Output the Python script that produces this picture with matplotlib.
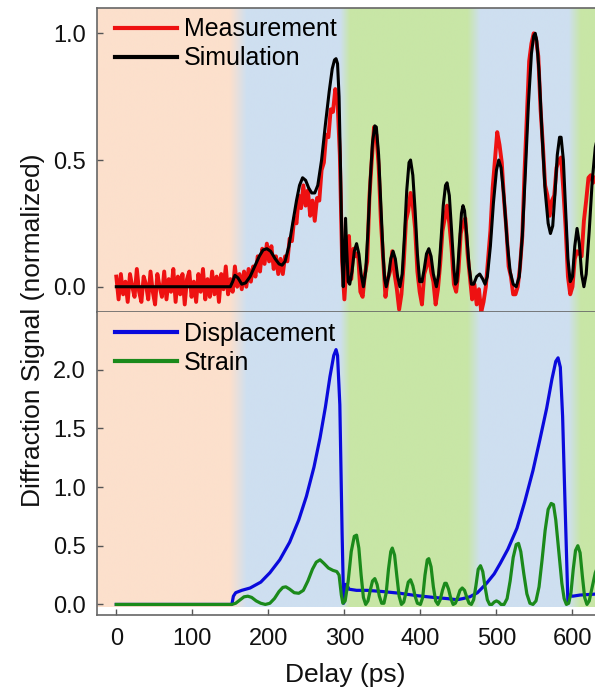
import numpy as np
import matplotlib
matplotlib.use("Agg")
import matplotlib.pyplot as plt

plt.rcParams['font.family'] = ['Liberation Sans', 'DejaVu Sans']

# ---------------------------------------------------------------------------
# Data
# ---------------------------------------------------------------------------
# measurement, sampled every 3 ps from 0 to 630 ps
meas_delay = np.arange(0, 631, 3)
measurement = [
    0.04, -0.05, 0.05, -0.03, 0.02, -0.06, 0.05, 0.00, -0.04, 0.07,
    -0.02, -0.06, 0.04, 0.01, -0.05, 0.06, -0.02, -0.07, 0.05, 0.00,
    -0.04, 0.06, -0.05, 0.03, -0.02, 0.07, -0.06, 0.04, -0.03, 0.05,
    -0.07, 0.03, 0.06, -0.04, 0.02, -0.06, 0.05, -0.02, 0.07, -0.05,
    0.03, -0.04, 0.06, -0.03, 0.04, -0.06, 0.05, -0.01, 0.08, -0.03,
    0.03, -0.02, 0.08, 0.00, 0.05, -0.01, 0.06, 0.00, 0.07, 0.02,
    0.08, 0.04, 0.12, 0.06, 0.15, 0.09, 0.17, 0.10, 0.16, 0.07,
    0.12, 0.05, 0.11, 0.05, 0.12, 0.10, 0.19, 0.18, 0.27, 0.25,
    0.36, 0.31, 0.40, 0.32, 0.38, 0.28, 0.34, 0.26, 0.35, 0.34,
    0.46, 0.49, 0.60, 0.59, 0.70, 0.69, 0.78, 0.73, 0.52, 0.10,
    -0.05, 0.10, 0.20, 0.03, 0.15, 0.12, 0.13, -0.02, -0.04, 0.05,
    0.10, 0.36, 0.50, 0.63, 0.60, 0.48, 0.26, 0.11, -0.04, 0.03,
    0.06, 0.14, 0.05, -0.01, -0.09, -0.03, 0.09, 0.26, 0.30, 0.37,
    0.32, 0.23, 0.06, -0.02, -0.07, 0.05, 0.08, 0.14, 0.06, 0.02,
    -0.07, -0.01, 0.09, 0.22, 0.27, 0.32, 0.25, 0.15, 0.01, -0.02,
    0.06, 0.21, 0.25, 0.27, 0.13, 0.04, -0.05, 0.01, -0.07, -0.01,
    -0.10, -0.06, 0.00, 0.11, 0.22, 0.39, 0.50, 0.61, 0.56, 0.49,
    0.34, 0.23, 0.08, 0.04, -0.03, -0.03, 0.00, 0.08, 0.20, 0.46,
    0.68, 0.89, 0.96, 1.00, 0.98, 0.91, 0.70, 0.56, 0.40, 0.36,
    0.28, 0.34, 0.36, 0.47, 0.50, 0.51, 0.38, 0.23, 0.04, -0.03,
    0.00, 0.11, 0.14, 0.13, 0.12, 0.26, 0.34, 0.43, 0.44, 0.41,
    0.43,
]

sim_delay = [
    0, 150, 153, 156, 160, 165, 170, 176, 182, 188, 193, 198, 203, 209, 214,
    218, 222, 227, 232, 237, 241, 245, 249, 253, 257, 261, 265, 270, 275, 280,
    284, 287, 289, 291, 293, 295, 297, 298.5, 300, 301.5, 303, 305, 307, 310,
    313, 316, 319, 322, 325, 328, 331, 334, 337, 340, 342, 345, 348, 351, 353,
    355, 358, 361, 364, 367, 370, 373, 376, 379, 382, 385, 387, 390, 393, 396,
    399, 402, 405, 408, 411, 414, 417, 421, 424, 427, 430, 433, 435, 438, 441,
    444, 446, 448, 451, 454, 456, 458, 461, 464, 467, 470, 474, 478, 482, 485,
    488, 492, 496, 500, 503, 506, 510, 514, 518, 522, 526, 530, 534, 538, 542,
    546, 549, 551, 553, 556, 560, 564, 568, 571, 574, 577, 580, 583, 585, 588,
    591, 594, 597, 600, 603, 606, 609, 612, 615, 618, 622, 626, 630, 635,
]
simulation = [
    0.0, 0.0, 0.02, 0.045, 0.035, 0.01, 0.015, 0.04, 0.08, 0.12, 0.145, 0.15, 0.14, 0.11, 0.09,
    0.085, 0.10, 0.16, 0.25, 0.34, 0.40, 0.43, 0.42, 0.39, 0.37, 0.37, 0.40, 0.50, 0.64, 0.77,
    0.86, 0.895, 0.90, 0.88, 0.75, 0.45, 0.12, 0.0, 0.12, 0.27, 0.15, 0.02, 0.01, 0.06,
    0.14, 0.17, 0.13, 0.05, 0.0, 0.06, 0.22, 0.42, 0.57, 0.635, 0.63, 0.52, 0.32, 0.12, 0.03,
    0.0, 0.04, 0.11, 0.14, 0.11, 0.04, 0.0, 0.05, 0.20, 0.38, 0.49, 0.50, 0.44, 0.30, 0.13,
    0.02, 0.02, 0.07, 0.13, 0.15, 0.12, 0.05, 0.0, 0.05, 0.18, 0.32, 0.40, 0.41, 0.36, 0.22,
    0.07, 0.01, 0.02, 0.16, 0.29, 0.32, 0.30, 0.20, 0.08, 0.01, 0.01, 0.04, 0.05, 0.03, 0.01,
    0.04, 0.16, 0.33, 0.46, 0.50, 0.47, 0.35, 0.18, 0.06, 0.01, 0.0, 0.04, 0.20, 0.45, 0.72,
    0.92, 0.99, 1.0, 0.97, 0.85, 0.60, 0.38, 0.25, 0.21, 0.24, 0.37, 0.52, 0.59, 0.59, 0.50,
    0.30, 0.11, 0.02, 0.04, 0.16, 0.23, 0.17, 0.05, 0.0, 0.05, 0.22, 0.42, 0.55, 0.62,
]

disp_delay = [
    0, 152, 154, 157, 165, 176, 190, 202, 215, 228, 240, 250, 260, 268, 275,
    281, 286, 289, 291, 294, 297, 299, 301, 303, 306, 316, 330, 350, 373, 395,
    417, 435, 448, 456, 465, 475, 487, 497, 505, 515, 527, 537, 548, 557, 566,
    573, 578, 581, 584, 587, 590, 594, 597, 600, 610, 635,
]
displacement = [
    0.0, 0.0, 0.07, 0.10, 0.12, 0.14, 0.19, 0.27, 0.38, 0.53, 0.72, 0.92, 1.17, 1.42, 1.68,
    1.94, 2.12, 2.17, 2.12, 1.70, 0.60, 0.01, 0.17, 0.17, 0.13, 0.12, 0.12, 0.11, 0.095, 0.075,
    0.06, 0.05, 0.04, 0.05, 0.065, 0.10, 0.18, 0.26, 0.35, 0.47, 0.65, 0.87, 1.14, 1.40, 1.67,
    1.92, 2.07, 2.10, 2.02, 1.60, 0.90, 0.01, 0.08, 0.07, 0.08, 0.09,
]

strain_delay = [
    0, 152, 157, 163, 168, 173, 178, 184, 190, 196, 202, 208, 214, 219, 223,
    228, 234, 240, 246, 252, 258, 263, 268, 273, 279, 285, 290, 293, 296, 298,
    301, 305, 309, 313, 316, 319, 322, 325, 328, 331, 334, 337, 340, 343, 346,
    349, 352, 355, 358, 361, 363, 366, 369, 372, 375, 378, 381, 384, 387, 390,
    393, 396, 400, 403, 406, 409, 411, 414, 417, 420, 423, 426, 429, 432, 434,
    437, 440, 443, 446, 449, 452, 455, 458, 461, 464, 467, 470, 473, 476, 479,
    482, 485, 488, 491, 494, 497, 500, 503, 506, 510, 514, 518, 522, 526, 529,
    532, 536, 540, 544, 548, 552, 556, 560, 564, 568, 572, 575, 578, 582, 586,
    589, 592, 595, 598, 601, 604, 607, 610, 613, 616, 619, 622, 626, 630, 635,
]
strain = [
    0.0, 0.0, 0.01, 0.04, 0.065, 0.07, 0.06, 0.03, 0.01, 0.0, 0.01, 0.05, 0.11, 0.145, 0.15,
    0.13, 0.10, 0.095, 0.12, 0.20, 0.30, 0.36, 0.38, 0.35, 0.31, 0.29, 0.28, 0.25, 0.08, 0.01,
    0.03, 0.20, 0.45, 0.58, 0.59, 0.48, 0.25, 0.06, 0.0, 0.03, 0.12, 0.20, 0.22, 0.17, 0.07,
    0.01, 0.01, 0.10, 0.30, 0.45, 0.48, 0.42, 0.24, 0.07, 0.0, 0.02, 0.10, 0.19, 0.21, 0.16,
    0.07, 0.01, 0.0, 0.06, 0.25, 0.38, 0.39, 0.32, 0.15, 0.03, 0.0, 0.04, 0.12, 0.18, 0.18,
    0.13, 0.05, 0.0, 0.01, 0.06, 0.12, 0.14, 0.12, 0.06, 0.01, 0.0, 0.04, 0.16, 0.30, 0.33,
    0.28, 0.15, 0.04, 0.0, 0.0, 0.02, 0.03, 0.02, 0.0, 0.0, 0.05, 0.20, 0.40, 0.51, 0.52,
    0.45, 0.26, 0.09, 0.01, 0.0, 0.03, 0.15, 0.38, 0.63, 0.81, 0.86, 0.85, 0.72, 0.45, 0.18,
    0.05, 0.0, 0.01, 0.10, 0.30, 0.46, 0.50, 0.44, 0.24, 0.06, 0.0, 0.03, 0.15, 0.27, 0.35,
]

# background shading: (delay, colour) stops
shade_stops = [
    (-30, '#FCE0CC'), (149, '#FCE0CC'), (171, '#CEDFF0'), (294, '#CEDFF0'),
    (307, '#C8E6A6'), (461, '#C8E6A6'), (478, '#CEDFF0'), (594, '#CEDFF0'),
    (610, '#C8E6A6'), (640, '#C8E6A6'),
]

XLIM = (-25.4, 629.6)

# ---------------------------------------------------------------------------
fig = plt.figure(figsize=(5.95, 6.95), dpi=100)
ax_top = fig.add_axes([0.163, 0.551, 1.0 - 0.163, 0.9885 - 0.551])
ax_bot = fig.add_axes([0.163, 0.1151, 1.0 - 0.163, 0.551 - 0.1151])


def shade(ax, y0, y1):
    xs = np.linspace(XLIM[0], XLIM[1], 1200)
    sx = [s[0] for s in shade_stops]
    rgb = np.array([matplotlib.colors.to_rgb(s[1]) for s in shade_stops])
    img = np.stack([np.interp(xs, sx, rgb[:, k]) for k in range(3)], axis=-1)
    ax.imshow(img[np.newaxis, :, :], extent=(XLIM[0], XLIM[1], y0, y1),
              aspect='auto', zorder=0, interpolation='bilinear')


shade(ax_top, -0.1, 1.1)
shade(ax_bot, -0.02, 2.5)

ax_top.plot(meas_delay, measurement, color='#EE1111', lw=2.8, label='Measurement', zorder=2)
ax_top.plot(sim_delay, simulation, color='black', lw=2.2, label='Simulation', zorder=3)

ax_bot.plot(disp_delay, displacement, color='#0A0ADC', lw=2.3, label='Displacement', zorder=2)
ax_bot.plot(strain_delay, strain, color='#1B8A1B', lw=2.3, label='Strain', zorder=3)

ax_top.set_xlim(*XLIM)
ax_top.set_ylim(-0.1, 1.1)
ax_bot.set_xlim(*XLIM)
ax_bot.set_ylim(-0.09, 2.49)

ax_top.set_yticks([0.0, 0.5, 1.0])
ax_top.set_yticklabels(['0.0', '0.5', '1.0'])
ax_bot.set_yticks([0.0, 0.5, 1.0, 1.5, 2.0])
ax_bot.set_yticklabels(['0.0', '0.5', '1.0', '1.5', '2.0'])
ax_bot.set_xticks([0, 100, 200, 300, 400, 500, 600])

for ax in (ax_top, ax_bot):
    ax.spines['right'].set_visible(False)
    for sp in ('left', 'top', 'bottom'):
        ax.spines[sp].set_color('#666666')
        ax.spines[sp].set_linewidth(1.2)
    ax.tick_params(direction='in', length=4, width=1, color='#555555',
                   labelsize=17, labelcolor='#111111')
    ax.tick_params(axis='y', pad=8)
    ax.tick_params(axis='x', pad=9)

ax_top.tick_params(axis='x', bottom=False, labelbottom=False)
ax_bot.spines['top'].set_visible(False)

leg_kw = dict(loc='upper left', bbox_to_anchor=(0.017, 1.0), frameon=False,
              fontsize=18, handlelength=2.5, handletextpad=0.25,
              labelspacing=0.2, borderaxespad=0.0, borderpad=0.38)
for ax in (ax_top, ax_bot):
    leg = ax.legend(**leg_kw)
    for line in leg.get_lines():
        line.set_linewidth(3)

fig.text(0.055, 0.525, 'Diffraction Signal (normalized)', rotation=90,
         ha='center', va='center', fontsize=19, color='#111111')
fig.text(0.58, 0.029, 'Delay (ps)', ha='center', va='center',
         fontsize=19, color='#111111')

fig.savefig('out.png', dpi=100)
